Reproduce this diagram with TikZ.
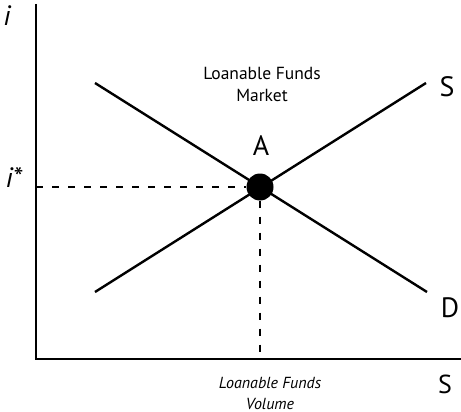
\documentclass[tikz,border=0pt]{standalone}
\usepackage{fontspec}
\setmainfont{PT Sans}
\usepackage{tikz}
\usetikzlibrary{positioning}

\begin{document}
\begin{tikzpicture}[x=1pt,y=-1pt]

  \tikzstyle{axis}=[line width=2.6pt]
  \tikzstyle{curve}=[line width=2.4pt]
  \tikzstyle{guide}=[line width=2pt, dash pattern=on 7pt off 9pt]
  \tikzstyle{big}=[font=\fontsize{28}{30}\selectfont, inner sep=0pt]
  \tikzstyle{small}=[font=\fontsize{17.5}{22}\selectfont, align=center, inner sep=0pt]
  \tikzstyle{point}=[circle, fill = black, minimum size = 27pt, inner sep = 0pt]

  \useasboundingbox (0,0) rectangle (461,412);

  \coordinate (origin) at (36,359);
  \coordinate (ytop) at (36,4);
  \coordinate (xend) at (461,359);
  \coordinate (slow) at (95,292);
  \coordinate (shigh) at (426,83);
  \coordinate (dhigh) at (95,83);
  \coordinate (dlow) at (427,292);

  \draw[axis] (ytop) -- (origin) -- (xend);
  \draw[curve] (slow) -- (shigh);
  \draw[curve] (dhigh) -- (dlow);

  \node[point] (eq) at (260,187) {};
  \draw[guide] (origin |- eq) -- (eq);
  \draw[guide] (eq) -- (eq |- origin);

  \node[big] (labelA) at (261,146) {A};
  \node[big] (labelS) at (447,87) {S};
  \node[big] (labelD) at (450,308) {D};
  \node[big, font=\fontsize{26}{28}\selectfont] (labelX) at (445,384) {S};
  \node[big, font=\fontsize{28}{30}\selectfont\itshape] (labelY) at (7,16) {i};
  \node[big, font=\fontsize{28}{30}\selectfont\itshape] (labelYstar) at (14,177) {i*};

  \node[small] (market) at (262,84) {Loanable Funds\\Market};
  \node[small, font=\fontsize{16}{21}\selectfont\itshape] (volume) at (270,393) {Loanable Funds\\Volume};

\end{tikzpicture}
\end{document}
